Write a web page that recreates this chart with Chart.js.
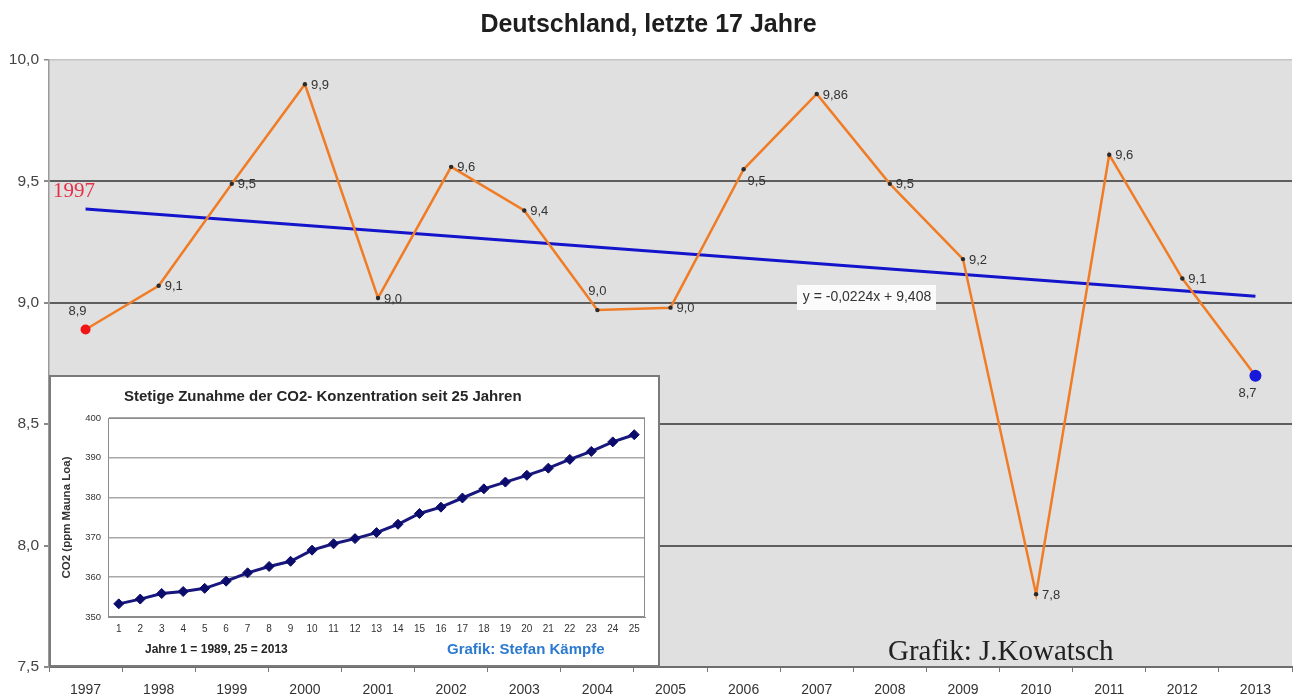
<!DOCTYPE html>
<html>
<head>
<meta charset="utf-8">
<script src="https://cdn.jsdelivr.net/npm/chart.js@4.4.1/dist/chart.umd.min.js"></script>
<style>
  html, body { margin: 0; padding: 0; background: #ffffff; }
  #wrap { position: relative; width: 1298px; height: 700px; overflow: hidden; }
  #main { position: absolute; left: 0; top: 0; }
  #inset { position: absolute; left: 49px; top: 375px; }
</style>
</head>
<body>
<div id="wrap">
  <canvas id="main" width="1298" height="700"></canvas>
  <canvas id="inset" width="611" height="292"></canvas>
</div>
<script>
// ---------- data ----------
const years = ['1997','1998','1999','2000','2001','2002','2003','2004','2005','2006','2007','2008','2009','2010','2011','2012','2013'];
const temps = [8.89, 9.07, 9.49, 9.90, 9.02, 9.56, 9.38, 8.97, 8.98, 9.55, 9.86, 9.49, 9.18, 7.80, 9.61, 9.10, 8.70];
const tempLabels = ['8,9','9,1','9,5','9,9','9,0','9,6','9,4','9,0','9,0','9,5','9,86','9,5','9,2','7,8','9,6','9,1','8,7'];
const trendYears = ['1997', '2013'];
const trendValues = [9.386, 9.027];
const trendEquation = 'y = -0,0224x + 9,408';
const yTickLabels = ['7,5','8,0','8,5','9,0','9,5','10,0'];

const co2Index = ['1','2','3','4','5','6','7','8','9','10','11','12','13','14','15','16','17','18','19','20','21','22','23','24','25'];
const co2 = [353.3, 354.5, 355.9, 356.4, 357.2, 359.0, 361.1, 362.7, 364.0, 366.8, 368.4, 369.7, 371.2, 373.3, 376.0, 377.6, 379.9, 382.2, 383.9, 385.6, 387.4, 389.6, 391.6, 394.0, 395.8];
const co2TickLabels = ['350','360','370','380','390','400'];

// ---------- label placement (style, not data) ----------
const labelSpots = ['aboveLeft','right','right','right','right','right','right','above','right','rightBelow','right','right','right','right','right','right','belowLeft'];

Chart.defaults.font.family = "'Liberation Sans', Arial, sans-serif";
const SANS = "'Liberation Sans', Arial, sans-serif";
const SERIF = "'Liberation Serif', 'Times New Roman', serif";

const mainPlugin = {
  id: 'mainDecor',
  beforeDraw(chart) {
    const { ctx, chartArea: a } = chart;
    ctx.save();
    ctx.fillStyle = '#ffffff';
    ctx.fillRect(0, 0, chart.width, chart.height);
    ctx.fillStyle = '#e0e0e0';
    ctx.fillRect(a.left, a.top, a.right - a.left, a.bottom - a.top);
    ctx.restore();
  },
  afterDatasetsDraw(chart) {
    const { ctx } = chart;
    ctx.save();
    // trendline equation box
    ctx.fillStyle = '#fbfbfb';
    ctx.fillRect(797, 285, 139, 25);
    ctx.fillStyle = '#333333';
    ctx.font = '14px ' + SANS;
    ctx.textAlign = 'center';
    ctx.textBaseline = 'middle';
    ctx.fillText(trendEquation, 867, 297);

    // data labels
    const meta = chart.getDatasetMeta(0);
    ctx.font = '13px ' + SANS;
    ctx.fillStyle = '#333333';
    meta.data.forEach((pt, i) => {
      const spot = labelSpots[i];
      let dx = 6, dy = 1, align = 'left';
      if (spot === 'rightBelow') { dx = 4; dy = 12; }
      if (spot === 'aboveLeft') { dx = -8; dy = -18; align = 'center'; }
      if (spot === 'above') { dx = 0; dy = -19; align = 'center'; }
      if (spot === 'belowLeft') { dx = -8; dy = 18; align = 'center'; }
      ctx.textAlign = align;
      ctx.textBaseline = 'middle';
      ctx.fillText(tempLabels[i], pt.x + dx, pt.y + dy);
    });

    // red start-year marker text
    ctx.fillStyle = '#e43046';
    ctx.font = '21px ' + SERIF;
    ctx.textAlign = 'left';
    ctx.textBaseline = 'middle';
    ctx.fillText(years[0], 53, 191);

    // author credit
    ctx.fillStyle = '#222222';
    ctx.font = '29px ' + SERIF;
    ctx.fillText('Grafik: J.Kowatsch', 888, 652);
    ctx.restore();
  }
};

new Chart(document.getElementById('main'), {
  type: 'line',
  data: {
    labels: years,
    datasets: [
      {
        label: 'Temperatur',
        data: temps,
        borderColor: '#f07d26',
        borderWidth: 2.5,
        tension: 0,
        order: 0,
        pointRadius: c => c.dataIndex === 0 ? 5 : (c.dataIndex === temps.length - 1 ? 6 : 2.2),
        pointBackgroundColor: c => c.dataIndex === 0 ? '#f01414' : (c.dataIndex === temps.length - 1 ? '#1818d8' : '#2a2a2a'),
        pointBorderColor: c => c.dataIndex === 0 ? '#f01414' : (c.dataIndex === temps.length - 1 ? '#1818d8' : '#2a2a2a'),
        pointBorderWidth: 0
      },
      {
        label: 'Trend',
        data: trendYears.map((y, i) => ({ x: y, y: trendValues[i] })),
        borderColor: '#1414cc',
        borderWidth: 3,
        pointRadius: 0,
        tension: 0,
        order: 1
      }
    ]
  },
  options: {
    responsive: false,
    animation: false,
    devicePixelRatio: 1,
    layout: { padding: { left: 0, right: 1, top: 0, bottom: 0 } },
    plugins: {
      legend: { display: false },
      tooltip: { enabled: false },
      title: {
        display: true,
        text: 'Deutschland, letzte 17 Jahre',
        color: '#1e1e1e',
        font: { size: 25, weight: 'bold' },
        padding: { top: 10, bottom: 20 }
      }
    },
    scales: {
      x: {
        offset: true,
        grid: { offset: true, drawOnChartArea: false, drawTicks: true, tickLength: 5, color: '#777777' },
        border: { display: true, color: '#6e6e6e', width: 2 },
        ticks: { padding: 10, color: '#333333', font: { size: 14 }, maxRotation: 0, autoSkip: false },
        afterFit(s) { s.height = 33; }
      },
      y: {
        min: 7.5,
        max: 10,
        ticks: {
          stepSize: 0.5,
          padding: 5,
          color: '#444444',
          font: { size: 15.5 },
          callback: v => yTickLabels[Math.round((v - 7.5) / 0.5)]
        },
        grid: {
          color: c => (c.tick && c.tick.value === 10) ? '#c4c4c4' : '#5e5e5e',
          lineWidth: c => (c.tick && c.tick.value === 10) ? 1.5 : 2,
          tickLength: 5,
          tickColor: '#8a8a8a'
        },
        border: { display: true, color: '#9a9a9a', width: 1.5 },
        afterFit(s) { s.width = 49; }
      }
    }
  },
  plugins: [mainPlugin]
});

// ---------- inset chart ----------
const insetPlugin = {
  id: 'insetDecor',
  beforeDraw(chart) {
    const { ctx } = chart;
    ctx.save();
    ctx.fillStyle = '#ffffff';
    ctx.fillRect(0, 0, chart.width, chart.height);
    ctx.restore();
  },
  afterDraw(chart) {
    const { ctx, chartArea: a } = chart;
    ctx.save();
    ctx.strokeStyle = '#8c8c8c';
    ctx.lineWidth = 1;
    ctx.strokeRect(a.left + 0.5, a.top + 0.5, a.right - a.left - 1, a.bottom - a.top - 1);
    ctx.strokeStyle = '#7a7a7a';
    ctx.lineWidth = 2;
    ctx.strokeRect(1, 1, chart.width - 2, chart.height - 2);

    ctx.fillStyle = '#262626';
    ctx.textBaseline = 'middle';
    ctx.textAlign = 'left';
    ctx.font = 'bold 15px ' + SANS;
    ctx.fillText('Stetige Zunahme der CO2- Konzentration seit 25 Jahren', 75, 22);
    ctx.font = 'bold 12px ' + SANS;
    ctx.fillText('Jahre 1 = 1989, 25 = 2013', 96, 275);
    ctx.fillStyle = '#2b7ad0';
    ctx.font = 'bold 15px ' + SANS;
    ctx.fillText('Grafik: Stefan Kämpfe', 398, 275);
    ctx.restore();
  }
};

new Chart(document.getElementById('inset'), {
  type: 'line',
  data: {
    labels: co2Index,
    datasets: [{
      label: 'CO2',
      data: co2,
      borderColor: '#17177e',
      borderWidth: 3,
      tension: 0,
      pointStyle: 'rectRot',
      pointRadius: 5,
      pointBackgroundColor: '#0c0c6c',
      pointBorderColor: '#0c0c6c',
      pointBorderWidth: 1
    }]
  },
  options: {
    responsive: false,
    animation: false,
    devicePixelRatio: 1,
    layout: { padding: { top: 43, right: 15, left: 0, bottom: 0 } },
    plugins: { legend: { display: false }, tooltip: { enabled: false } },
    scales: {
      x: {
        offset: true,
        grid: { display: false, drawTicks: false },
        border: { display: true, color: '#8c8c8c' },
        ticks: { padding: 6, color: '#333333', font: { size: 10 }, maxRotation: 0, autoSkip: false },
        afterFit(s) { s.height = 50; }
      },
      y: {
        min: 350,
        max: 400,
        ticks: {
          stepSize: 10,
          padding: 7,
          color: '#333333',
          font: { size: 9.5 },
          callback: v => co2TickLabels[Math.round((v - 350) / 10)]
        },
        grid: { color: '#a8a8a8', lineWidth: 1.5, drawTicks: false },
        border: { display: true, color: '#8c8c8c' },
        title: {
          display: true,
          text: 'CO2 (ppm Mauna Loa)',
          color: '#333333',
          font: { size: 11.5, weight: 'bold' },
          padding: { top: 11, bottom: 0 }
        },
        afterFit(s) { s.width = 59; }
      }
    }
  },
  plugins: [insetPlugin]
});
</script>
</body>
</html>
